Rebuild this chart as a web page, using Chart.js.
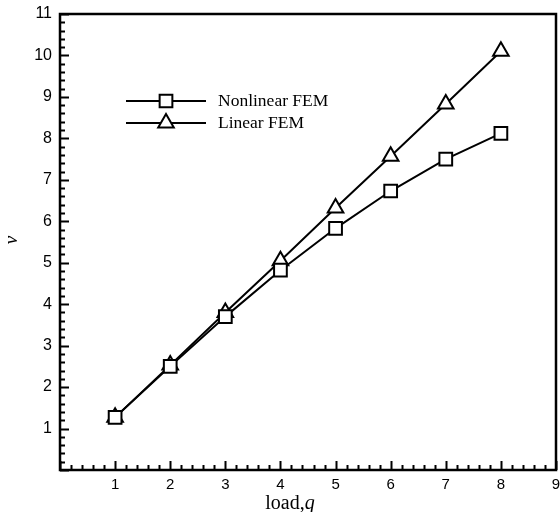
<!DOCTYPE html>
<html>
<head>
<meta charset="utf-8">
<script src="https://cdn.jsdelivr.net/npm/chart.js@4"></script>
<style>
  html, body { margin: 0; padding: 0; background: #fff; }
  #wrap { width: 560px; height: 512px; }
</style>
</head>
<body>
<div id="wrap"><canvas id="chart" width="560" height="512"></canvas></div>
<script>
// Data
const loads = [1, 2, 3, 4, 5, 6, 7, 8];
const nonlinearFEM = [1.27, 2.50, 3.70, 4.82, 5.83, 6.73, 7.50, 8.12];
const linearFEM = [1.27, 2.53, 3.80, 5.05, 6.32, 7.57, 8.83, 10.10];
const seriesNames = ['Nonlinear FEM', 'Linear FEM'];
const xTicks = [1, 2, 3, 4, 5, 6, 7, 8, 9];
const yTicks = [1, 2, 3, 4, 5, 6, 7, 8, 9, 10, 11];

const toPoints = (ys) => loads.map((x, i) => ({ x: x, y: ys[i] }));

// Frame, inward ticks, axis titles and legend
const framePlugin = {
    id: 'frame',
    afterDraw(chart) {
        const ctx = chart.ctx;
        const a = chart.chartArea;
        const xs = chart.scales.x, ys = chart.scales.y;
        ctx.save();
        ctx.strokeStyle = '#000';

        // ticks on bottom and left
        ctx.lineWidth = 2;
        ctx.beginPath();
        for (let v = 0; v <= 9.001; v += 0.2) {
            const px = Math.round(xs.getPixelForValue(v)) + 0.5;
            const major = Math.abs(v - Math.round(v)) < 1e-6;
            ctx.moveTo(px, a.bottom);
            ctx.lineTo(px, a.bottom - (major ? 9 : 5));
        }
        for (let v = 0; v <= 11.001; v += 0.2) {
            const py = Math.round(ys.getPixelForValue(v)) + 0.5;
            const major = Math.abs(v - Math.round(v)) < 1e-6;
            ctx.moveTo(a.left, py);
            ctx.lineTo(a.left + (major ? 9 : 5), py);
        }
        ctx.stroke();

        // box
        ctx.lineWidth = 2.5;
        ctx.strokeRect(a.left, a.top, a.right - a.left, a.bottom - a.top);

        // axis titles
        ctx.fillStyle = '#000';
        ctx.textBaseline = 'alphabetic';
        const t1 = 'load,';
        ctx.font = '20px "Liberation Serif"';
        const w1 = ctx.measureText(t1).width;
        ctx.font = 'italic 20px "Liberation Serif"';
        const w2 = ctx.measureText('q').width;
        let sx = 290 - (w1 + w2) / 2;
        ctx.font = '20px "Liberation Serif"';
        ctx.textAlign = 'left';
        ctx.fillText(t1, sx, 509);
        ctx.font = 'italic 20px "Liberation Serif"';
        ctx.fillText('q', sx + w1, 509);

        ctx.save();
        ctx.translate(17, 240);
        ctx.rotate(-Math.PI / 2);
        ctx.textAlign = 'center';
        ctx.font = 'italic 19px "Liberation Serif"';
        ctx.fillText('v', 0, 0);
        ctx.restore();

        // legend
        const rows = [101, 123];
        chart.data.datasets.forEach((ds, i) => {
            const y = rows[i];
            ctx.lineWidth = 2;
            ctx.beginPath();
            ctx.moveTo(126, y);
            ctx.lineTo(206, y);
            ctx.stroke();
            ctx.fillStyle = '#fff';
            ctx.lineWidth = ds.pointBorderWidth;
            Chart.helpers.drawPoint(ctx, {
                pointStyle: ds.pointStyle,
                radius: ds.pointRadius,
                borderWidth: ds.pointBorderWidth,
                rotation: 0
            }, 166, y);
            ctx.fillStyle = '#000';
            ctx.font = '17.5px "Liberation Serif"';
            ctx.textAlign = 'left';
            ctx.textBaseline = 'middle';
            ctx.fillText(ds.label, 218, y);
        });
        ctx.restore();
    }
};

const lineStyle = {
    showLine: true,
    borderColor: '#000',
    borderWidth: 2,
    backgroundColor: '#fff',
    pointBackgroundColor: '#fff',
    pointBorderColor: '#000',
    pointBorderWidth: 2,
    tension: 0
};

new Chart(document.getElementById('chart'), {
    type: 'scatter',
    data: {
        datasets: [
            Object.assign({}, lineStyle, {
                label: seriesNames[0],
                data: toPoints(nonlinearFEM),
                pointStyle: 'rect',
                pointRadius: 9
            }),
            Object.assign({}, lineStyle, {
                label: seriesNames[1],
                data: toPoints(linearFEM),
                pointStyle: 'triangle',
                pointRadius: 9
            })
        ]
    },
    options: {
        responsive: false,
        animation: false,
        layout: { autoPadding: false, padding: { top: 14, right: 4, left: 0, bottom: 0 } },
        plugins: {
            legend: { display: false },
            tooltip: { enabled: false }
        },
        scales: {
            x: {
                type: 'linear',
                min: 0, max: 9,
                afterBuildTicks: (s) => { s.ticks = xTicks.map(v => ({ value: v })); },
                afterFit: (s) => { s.height = 42; s.paddingLeft = 0; s.paddingRight = 0; },
                grid: { display: false, drawTicks: false },
                border: { display: false },
                ticks: {
                    color: '#000',
                    padding: 6,
                    maxRotation: 0,
                    font: { family: 'Liberation Sans', size: 15 }
                }
            },
            y: {
                type: 'linear',
                min: 0, max: 11,
                afterBuildTicks: (s) => { s.ticks = yTicks.map(v => ({ value: v })); },
                afterFit: (s) => { s.width = 60; s.paddingTop = 0; s.paddingBottom = 0; },
                grid: { display: false, drawTicks: false },
                border: { display: false },
                ticks: {
                    color: '#000',
                    padding: 8,
                    font: { family: 'Liberation Sans', size: 16 }
                }
            }
        }
    },
    plugins: [framePlugin]
});
</script>
</body>
</html>
